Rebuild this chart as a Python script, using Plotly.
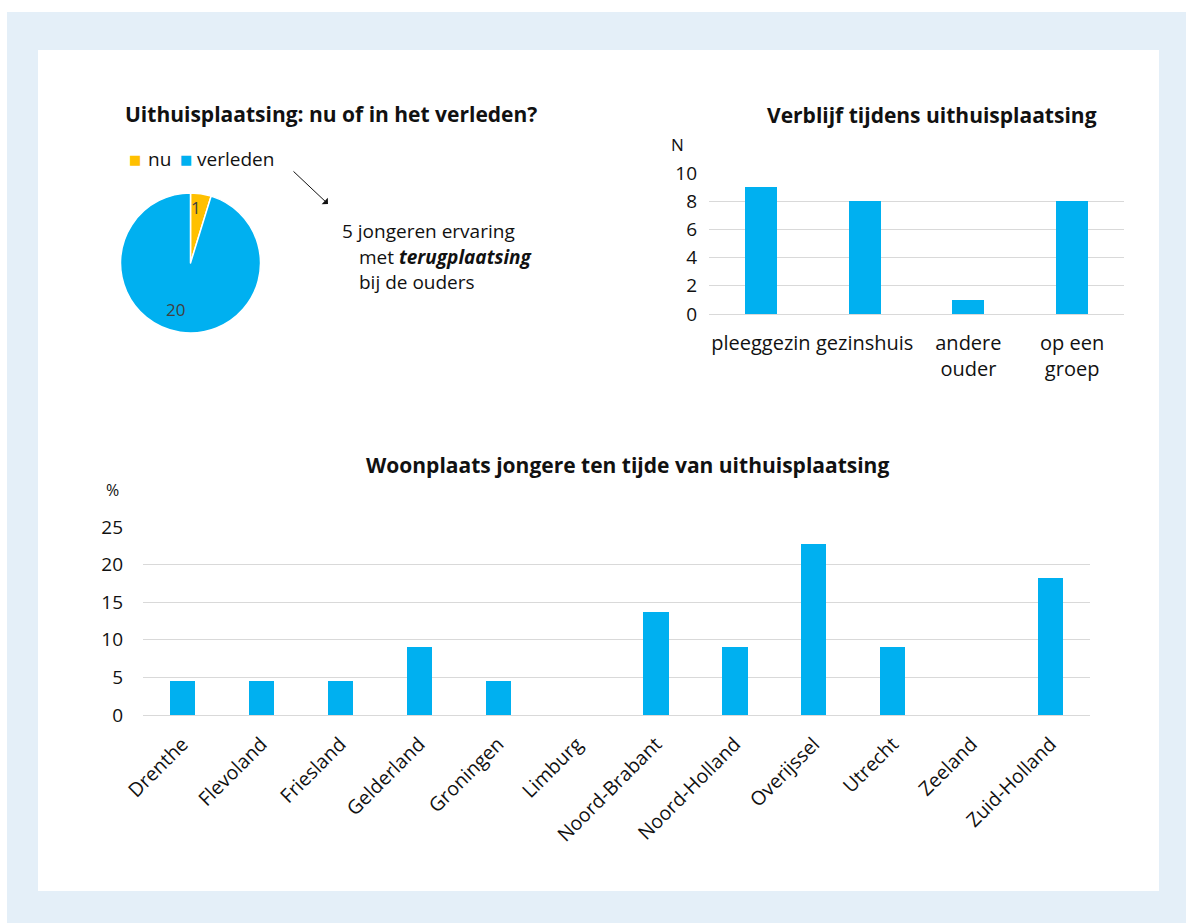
import plotly.graph_objects as go

W, H = 1186, 923

# ---------------- data ----------------
pie_labels = ["nu", "verleden"]
pie_values = [1, 20]
pie_colors = ["#FFC000", "#00B0F0"]

stay_cats = ["pleeggezin", "gezinshuis", "andere<br>ouder", "op een<br>groep"]
stay_vals = [9, 8, 1, 8]
stay_ticks = [0, 2, 4, 6, 8, 10]

prov_cats = ["Drenthe", "Flevoland", "Friesland", "Gelderland", "Groningen", "Limburg",
             "Noord-Brabant", "Noord-Holland", "Overijssel", "Utrecht", "Zeeland", "Zuid-Holland"]
prov_vals = [4.55, 4.55, 4.55, 9.09, 4.55, 0, 13.64, 9.09, 22.73, 9.09, 0, 18.18]
prov_ticks = [0, 5, 10, 15, 20, 25]

BLUE = "#00B0F0"
GRID = "#D9D9D9"
TXT = "#404040"
DARK = "#111111"
FONT = "Open Sans"


def px(x):
    return x / W


def py(y):
    return 1 - y / H


fig = go.Figure()

fig.add_trace(go.Pie(
    labels=pie_labels, values=pie_values, sort=False, direction="clockwise", rotation=0,
    marker=dict(colors=pie_colors, line=dict(color="white", width=1.5)),
    textinfo="none", textposition="none",
    domain=dict(x=[px(120), px(261)], y=[py(333), py(193)]),
    showlegend=False, hoverinfo="label+value",
))

fig.add_trace(go.Bar(
    x=stay_cats, y=stay_vals, marker=dict(color=BLUE), width=0.31,
    xaxis="x", yaxis="y", showlegend=False,
))

fig.add_trace(go.Bar(
    x=prov_cats, y=prov_vals, marker=dict(color=BLUE), width=0.32,
    xaxis="x2", yaxis="y2", showlegend=False,
))

fig.update_layout(
    template="none",
    width=W, height=H, autosize=False,
    margin=dict(l=0, r=0, t=0, b=0, pad=0, autoexpand=False),
    paper_bgcolor="white", plot_bgcolor="rgba(0,0,0,0)",
    font=dict(family=FONT, size=18, color=TXT),
    bargap=0,
    showlegend=False,
    xaxis=dict(domain=[px(709), px(1124)], anchor="y", showgrid=False, showline=False,
               zeroline=False, automargin=False,
               ticks="", tickfont=dict(size=20, color=DARK), ticklabelstandoff=15,
               fixedrange=True),
    yaxis=dict(domain=[py(314), py(173)], anchor="x", range=[0, 10], tickvals=stay_ticks,
               showgrid=True, gridcolor=GRID, gridwidth=1, zeroline=True, zerolinecolor=GRID,
               zerolinewidth=1, showline=False, ticks="", tickfont=dict(size=19, color=DARK),
               ticklabelstandoff=11, fixedrange=True, automargin=False),
    xaxis2=dict(domain=[px(143), px(1090)], anchor="y2", showgrid=False, showline=False,
                zeroline=False, automargin=False,
                ticks="", tickangle=-45, tickfont=dict(size=19.5, color=DARK), ticklabelstandoff=13,
                fixedrange=True),
    yaxis2=dict(domain=[py(715), py(527)], anchor="x2", range=[0, 25], tickvals=prov_ticks,
                showgrid=True, gridcolor=GRID, gridwidth=1, zeroline=True, zerolinecolor=GRID,
                zerolinewidth=1, showline=False, ticks="", tickfont=dict(size=19, color=DARK),
                ticklabelstandoff=19, fixedrange=True, automargin=False),
    shapes=[
        dict(type="rect", xref="paper", yref="paper", x0=px(7), x1=1, y0=0, y1=py(12),
             fillcolor="#E4EFF8", line=dict(width=0), layer="below"),
        dict(type="rect", xref="paper", yref="paper", x0=px(38), x1=px(1159), y0=py(891), y1=py(50),
             fillcolor="white", line=dict(width=0), layer="below"),
    ],
)

annos = [
    dict(text="<b>Uithuisplaatsing: nu of in het verleden?</b>", x=px(331), y=py(114),
         font=dict(size=21, color=DARK)),
    dict(text="<b>Verblijf tijdens uithuisplaatsing</b>", x=px(932), y=py(115),
         font=dict(size=21, color=DARK)),
    dict(text="<b>Woonplaats jongere ten tijde van uithuisplaatsing</b>", x=px(627), y=py(465),
         font=dict(size=21, color=DARK)),
    dict(text="N", x=px(677), y=py(144), font=dict(size=17, color=DARK)),
    dict(text="%", x=px(112), y=py(490), font=dict(size=16, color=DARK)),
    dict(text="5 jongeren ervaring", x=px(340), y=py(231), xanchor="left",
         font=dict(size=19, color=DARK)),
    dict(text="met <b><i>terugplaatsing</i></b>", x=px(357), y=py(257), xanchor="left",
         font=dict(size=19, color=DARK)),
    dict(text="bij de ouders", x=px(357), y=py(282), xanchor="left",
         font=dict(size=19, color=DARK)),
    # pie value labels
    dict(text=str(pie_values[0]), x=px(196), y=py(207), font=dict(size=17, color=TXT)),
    dict(text=str(pie_values[1]), x=px(175), y=py(309), font=dict(size=17, color=TXT)),
    # legend (squares + labels)
    dict(text="■", x=px(135), y=py(159), font=dict(family="DejaVu Sans", size=13, color=pie_colors[0])),
    dict(text=pie_labels[0], x=px(146), y=py(159), xanchor="left", font=dict(size=19, color=DARK)),
    dict(text="■", x=px(186), y=py(159), font=dict(family="DejaVu Sans", size=13, color=pie_colors[1])),
    dict(text=pie_labels[1], x=px(195), y=py(159), xanchor="left", font=dict(size=19, color=DARK)),
]
for a in annos:
    a.setdefault("xanchor", "center")
    a.update(xref="paper", yref="paper", yanchor="middle", showarrow=False)
    fig.add_annotation(**a)

fig.add_annotation(x=px(328), y=py(204), xref="paper", yref="paper", ax=-36, ay=-34,
                   text="", showarrow=True, arrowhead=1, arrowsize=1.5, arrowwidth=1,
                   arrowcolor=DARK)

fig.write_html("out.html", config={"displayModeBar": False},
               post_script="document.body.style.margin='0';document.body.style.padding='0';")
